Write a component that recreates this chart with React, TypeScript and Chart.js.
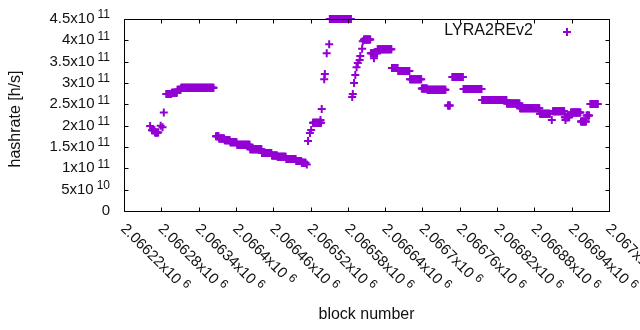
import React, { useEffect, useRef } from 'react';
import { Chart, registerables } from 'chart.js';

Chart.register(...registerables);

const COLOR = '#9400D3';
const FONT = '"Liberation Sans", Arial, sans-serif';

const SERIES_NAME = 'LYRA2REv2';
const X_TITLE = 'block number';
const Y_TITLE = 'hashrate [h/s]';

const xMin = 2066220;
const xMax = 2067000;
const yMin = 0;
const yMax = 4.5e11;

const xTicks = [2066220, 2066280, 2066340, 2066400, 2066460, 2066520, 2066580, 2066640, 2066700, 2066760, 2066820, 2066880, 2066940, 2067000];
const xTickLabels = ['2.06622', '2.06628', '2.06634', '2.0664', '2.06646', '2.06652', '2.06658', '2.06664', '2.0667', '2.06676', '2.06682', '2.06688', '2.06694', '2.067'];
const xTickExponent = '6';

const yTicks = [0, 5e10, 1e11, 1.5e11, 2e11, 2.5e11, 3e11, 3.5e11, 4e11, 4.5e11];
const yTickMantissas = ['0', '5', '1', '1.5', '2', '2.5', '3', '3.5', '4', '4.5'];
const yTickExponents = ['', '10', '11', '11', '11', '11', '11', '11', '11', '11'];

// Runs of consecutive blocks sharing the same hashrate value
const runStart = [2066265, 2066270, 2066288, 2066297, 2066306, 2066312, 2066368, 2066373, 2066382, 2066391, 2066402, 2066423, 2066442, 2066458, 2066467, 2066481, 2066497, 2066506, 2066524, 2066551, 2066606, 2066617, 2066628, 2066651, 2066661, 2066680, 2066699, 2066708, 2066741, 2066748, 2066766, 2066796, 2066836, 2066857, 2066889, 2066910, 2066929, 2066939, 2066955, 2066964, 2066970];
const runEnd = [2066269, 2066275, 2066296, 2066305, 2066311, 2066364, 2066372, 2066381, 2066390, 2066401, 2066422, 2066441, 2066457, 2066466, 2066480, 2066496, 2066505, 2066512, 2066537, 2066585, 2066616, 2066627, 2066650, 2066660, 2066679, 2066698, 2066707, 2066737, 2066744, 2066765, 2066795, 2066835, 2066856, 2066888, 2066905, 2066928, 2066936, 2066954, 2066963, 2066968, 2066982];
const runValue = [1.89e11, 1.84e11, 2.74e11, 2.77e11, 2.84e11, 2.89e11, 1.75e11, 1.70e11, 1.66e11, 1.61e11, 1.55e11, 1.45e11, 1.36e11, 1.30e11, 1.27e11, 1.22e11, 1.17e11, 1.13e11, 2.07e11, 4.5e11, 4.02e11, 3.70e11, 3.79e11, 3.35e11, 3.28e11, 3.09e11, 2.87e11, 2.84e11, 2.47e11, 3.14e11, 2.86e11, 2.60e11, 2.52e11, 2.41e11, 2.28e11, 2.34e11, 2.20e11, 2.31e11, 2.10e11, 2.24e11, 2.51e11];

// Isolated blocks
const singleBlock = [2066262, 2066279, 2066282, 2066284, 2066514, 2066516, 2066519, 2066521, 2066536, 2066538, 2066542, 2066543, 2066546, 2066550, 2066587, 2066588, 2066590, 2066592, 2066594, 2066596, 2066599, 2066600, 2066603, 2066604, 2066622, 2066908, 2066930];
const singleValue = [1.99e11, 2.00e11, 1.96e11, 2.31e11, 1.09e11, 1.64e11, 1.83e11, 1.90e11, 2.13e11, 2.39e11, 3.09e11, 3.21e11, 3.70e11, 3.91e11, 2.67e11, 2.74e11, 3.00e11, 3.19e11, 3.37e11, 3.47e11, 3.54e11, 3.63e11, 3.80e11, 3.98e11, 3.58e11, 2.13e11, 2.13e11];

function buildPoints() {
  const pts: { x: number; y: number }[] = [];
  for (let i = 0; i < runStart.length; i++) {
    for (let b = runStart[i]; b <= runEnd[i]; b++) pts.push({ x: b, y: runValue[i] });
  }
  for (let i = 0; i < singleBlock.length; i++) pts.push({ x: singleBlock[i], y: singleValue[i] });
  return pts;
}

const decorPlugin = {
  id: 'gnuplotDecor',
  afterDraw(chart: any) {
    const ctx = chart.ctx as CanvasRenderingContext2D;
    const a = chart.chartArea;
    const xs = chart.scales.x;
    const ys = chart.scales.y;
    const L = Math.round(a.left) + 0.5;
    const R = Math.round(a.right) + 0.5;
    const T = Math.round(a.top) + 0.5;
    const B = Math.round(a.bottom) + 0.5;
    ctx.save();
    ctx.strokeStyle = '#000';
    ctx.lineWidth = 1;
    ctx.beginPath();
    ctx.rect(L, T, R - L, B - T);
    const tl = 4;
    xTicks.forEach((v) => {
      const px = Math.round(xs.getPixelForValue(v)) + 0.5;
      ctx.moveTo(px, B);
      ctx.lineTo(px, B - tl);
      ctx.moveTo(px, T);
      ctx.lineTo(px, T + tl);
    });
    yTicks.forEach((v) => {
      const py = Math.round(ys.getPixelForValue(v)) + 0.5;
      ctx.moveTo(L, py);
      ctx.lineTo(L + tl, py);
      ctx.moveTo(R, py);
      ctx.lineTo(R - tl, py);
    });
    ctx.stroke();

    ctx.fillStyle = '#111';
    const baseFont = `15px ${FONT}`;
    const supFont = `12px ${FONT}`;
    // y tick labels
    yTicks.forEach((v, i) => {
      const py = ys.getPixelForValue(v);
      const right = 110;
      ctx.textBaseline = 'middle';
      ctx.textAlign = 'right';
      const exp = yTickExponents[i];
      if (!exp) {
        ctx.font = baseFont;
        ctx.fillText(yTickMantissas[i], right, py);
        return;
      }
      ctx.font = supFont;
      const sw = ctx.measureText(exp).width;
      ctx.fillText(exp, right, py - 4);
      ctx.font = baseFont;
      ctx.fillText(yTickMantissas[i] + 'x10', right - sw - 3, py);
    });
    // x tick labels, rotated
    xTicks.forEach((v, i) => {
      const px = xs.getPixelForValue(v);
      ctx.save();
      ctx.translate(px - 1, B + 15);
      ctx.rotate(Math.PI / 4);
      ctx.textAlign = 'left';
      ctx.textBaseline = 'middle';
      ctx.font = baseFont;
      const base = xTickLabels[i] + 'x10';
      ctx.fillText(base, 0, 0);
      const w = ctx.measureText(base).width;
      ctx.font = supFont;
      ctx.fillText(xTickExponent, w + 4, -4);
      ctx.restore();
    });

    // axis titles
    ctx.font = `16px ${FONT}`;
    ctx.textAlign = 'center';
    ctx.textBaseline = 'middle';
    ctx.fillText(X_TITLE, (a.left + a.right) / 2, 315);
    ctx.save();
    ctx.translate(16, 119);
    ctx.rotate(-Math.PI / 2);
    ctx.fillText(Y_TITLE, 0, 0);
    ctx.restore();

    // legend
    ctx.textAlign = 'right';
    ctx.fillText(SERIES_NAME, 533, 31);
    ctx.strokeStyle = COLOR;
    ctx.lineWidth = 2;
    ctx.beginPath();
    ctx.moveTo(563, 32);
    ctx.lineTo(571, 32);
    ctx.moveTo(567, 28);
    ctx.lineTo(567, 36);
    ctx.stroke();
    ctx.restore();
  },
};

export default function App() {
  const ref = useRef<HTMLCanvasElement | null>(null);
  useEffect(() => {
    document.body.style.margin = '0';
    if (!ref.current) return;
    const chart = new Chart(ref.current, {
      type: 'scatter',
      data: {
        datasets: [
          {
            label: SERIES_NAME,
            data: buildPoints(),
            pointStyle: 'cross',
            pointRadius: 4,
            pointBorderWidth: 2,
            borderColor: COLOR,
            backgroundColor: COLOR,
            clip: false as any,
          },
        ],
      },
      options: {
        animation: false,
        responsive: false,
        events: [],
        layout: { padding: { top: 19, right: 31, left: 0, bottom: 0 } },
        plugins: { legend: { display: false }, tooltip: { enabled: false } },
        scales: {
          x: {
            type: 'linear',
            min: xMin,
            max: xMax,
            ticks: { display: false },
            grid: { display: false },
            border: { display: false },
            afterFit: (s: any) => {
              s.height = 119;
            },
          },
          y: {
            min: yMin,
            max: yMax,
            ticks: { display: false },
            grid: { display: false },
            border: { display: false },
            afterFit: (s: any) => {
              s.width = 124;
            },
          },
        },
      },
      plugins: [decorPlugin],
    });
    return () => chart.destroy();
  }, []);
  return (
    <div style={{ position: 'fixed', left: 0, top: 0, width: 640, height: 330, background: '#fff' }}>
      <canvas ref={ref} width={640} height={330} />
    </div>
  );
}
